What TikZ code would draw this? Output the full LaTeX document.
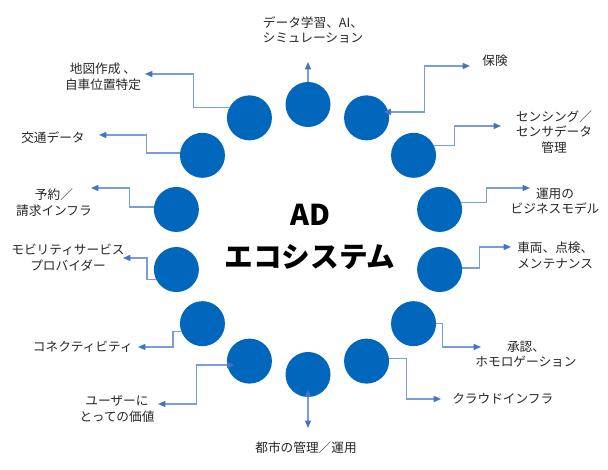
\documentclass[tikz,border=0pt]{standalone}
\usepackage{fontspec}
\newfontfamily\jp{Noto Sans CJK JP}
\usetikzlibrary{arrows.meta, calc}
\usetikzlibrary{positioning}
\definecolor{dotblue}{RGB}{0,103,189}
\definecolor{linkblue}{RGB}{120,158,218}
\definecolor{tipblue}{RGB}{68,114,196}

\begin{document}
\begin{tikzpicture}[x=0.75pt, y=0.75pt,
		>={Triangle[length=5.5pt, width=4.5pt, color=tipblue]},
		dot/.style={circle, fill=dotblue, inner sep=0pt, minimum size=33.75pt},
		link/.style={linkblue, line width=1pt, ->},
		lbl/.style={font=\jp\fontsize{9.5}{11.6}\selectfont, text=black!85, align=center, inner sep=0pt}]

			\useasboundingbox (0,0) rectangle (608,470);

			% ring of fourteen dots
			\coordinate (hub) at (308,230.5);
			\foreach \i in {1,...,14}
				\node[dot] (c\i) at ($(hub)+({90-(\i-1)*360/14}:135)$) {};

			\node[font=\jp\bfseries\fontsize{21.5}{31}\selectfont, align=center] (title) at (310,233) {AD\\エコシステム};

			% arrow ends
			\coordinate (t1) at (308,408);
			\coordinate (t2) at (470,404);
			\coordinate (t3) at (501,344);
			\coordinate (t4) at (530,282);
			\coordinate (t5) at (511,223);
			\coordinate (t6) at (481,123);
			\coordinate (t7) at (441,71);
			\coordinate (t8) at (308,42);
			\coordinate (t9) at (158,66);
			\coordinate (t10) at (138,123);
			\coordinate (t11) at (123,212);
			\coordinate (t12) at (91,282);
			\coordinate (t13) at (99,335);
			\coordinate (t14) at (145,396);

			\node[lbl] (l1) at (313,440) {データ学習、AI、\\シミュレーション};
			\node[lbl] (l2) at (495,409) {保険};
			\node[lbl] (l3) at (554,338) {センシング／\\センサデータ\\管理};
			\node[lbl] (l4) at (555,269) {運用の\\ビジネスモデル};
			\node[lbl, align=left, anchor=west] (l5) at (517,214.5) {車両、点検、\\メンテナンス};
			\node[lbl] (l6) at (526,115.5) {承認、\\ホモロゲーション};
			\node[lbl, anchor=west] (l7) at (452,71) {クラウドインフラ};
			\node[lbl] (l8) at (306,22) {都市の管理／運用};
			\node[lbl] (l9) at (117,61) {ユーザーに\\とっての価値};
			\node[lbl, anchor=east] (l10) at (133,123) {コネクティビティ};
			\node[lbl] (l11) at (68,212.5) {モビリティサービス\\プロバイダー};
			\node[lbl] (l12) at (54,267.5) {予約／\\請求インフラ};
			\node[lbl] (l13) at (53,332) {交通データ};
			\node[lbl] (l14) at (103,393.5) {地図作成 、\\自車位置特定};

			% connectors
			\draw[link] (c1.north) -- (t1);
			\draw[link, <->] ($(c2)+(17,6)$) -- ++(41,0) |- (t2);
			\draw[link] (c3.25) -- ++(20,0) |- (t3);
			\draw[link] (c4.17) -- ++(25,0) |- (t4);
			\draw[link] (c5.4) -- ++(17,0) |- (t5);
			\draw[link] (c6.east) -- ++(6,0) |- (t6);
			\draw[link] (c7.6) -- ++(17,0) |- (t7);
			\draw[link, <->] ($(c8)+(0,-15)$) -- (t8);
			\draw[link, <->] ($(c9)+(-15,-4)$) -- ++(-38,0) |- (t9);
			\draw[link] (c10.200) -- ++(-8,0) |- (t10);
			\draw[link] (c11.206) -- ++(-9,0) |- (t11);
			\draw[link] (c12.174) -- ++(-24,0) |- (t12);
			\draw[link] (c13.174) -- ++(-33,0) |- (t13);
			\draw[link] (c14.153) -- ++(-35.5,0) |- (t14);
		\end{tikzpicture}
\end{document}
